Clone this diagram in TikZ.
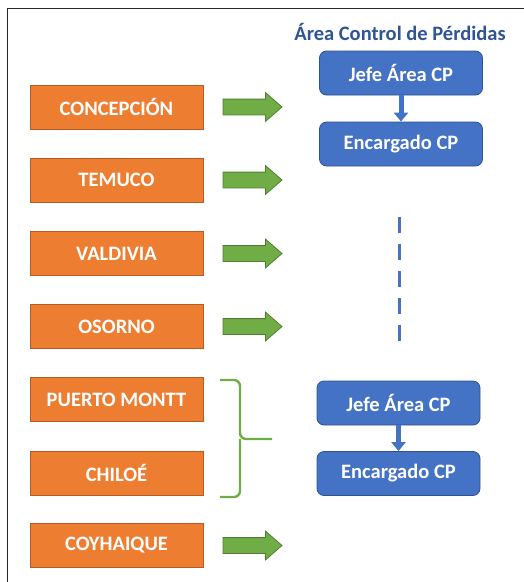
\documentclass[tikz,border=0pt]{standalone}
\usepackage{fontspec}
\setmainfont{Carlito}
\usetikzlibrary{shapes.arrows,arrows.meta}
\definecolor{sedeOrange}{HTML}{ED7D31}
\definecolor{sedeOrangeDark}{HTML}{B35D24}
\definecolor{flowGreen}{HTML}{70AD47}
\definecolor{flowGreenDark}{HTML}{507E32}
\definecolor{cpBlue}{HTML}{4472C4}
\definecolor{cpBlueDark}{HTML}{2F528F}
\definecolor{titleBlue}{HTML}{2F5597}
\tikzset{
  rotulo/.style={font=\bfseries\fontsize{20.5}{24}\selectfont},
  sede/.style={rotulo, draw=sedeOrangeDark, line width=0.8pt, fill=sedeOrange, text=white,
    minimum width=173pt, minimum height=44pt, inner sep=0pt},
  cargo/.style={rotulo, draw=cpBlueDark, line width=0.8pt, fill=cpBlue, text=white,
    rounded corners=7pt, minimum width=163pt, minimum height=44pt, inner sep=0pt},
  flecha/.style={shape=single arrow, draw=flowGreenDark, line width=0.8pt, fill=flowGreen,
    minimum height=59pt, inner xsep=0pt, inner ysep=7.5pt, single arrow head extend=6.5pt,
    single arrow head indent=0pt, single arrow tip angle=82, outer sep=0pt},
  baja/.style={cpBlue, line width=5pt, -{Triangle[width=14pt,length=9pt]}},
  llave/.style={flowGreen, line width=2.4pt, rounded corners=6pt},
}
\begin{document}
\begin{tikzpicture}[x=1pt,y=1pt]
  \useasboundingbox (0,0) rectangle (524,-582);
  % open frame: top and left edges only
  \draw[line width=1.4pt, black!85] (7.5,-582) -- (7.5,-8.5) -- (524,-8.5);

  % regional offices
  \node[sede] (conc) at (116.5,-107) {CONCEPCIÓN};
  \node[sede] (temu) at (116.5,-180) {TEMUCO};
  \node[sede] (vald) at (116.5,-253.5) {VALDIVIA};
  \node[sede] (osor) at (116.5,-326.5) {OSORNO};
  \node[sede] (ptom) at (116.5,-399.5) {PUERTO MONTT};
  \node[sede] (chil) at (116.5,-473) {CHILOÉ};
  \node[sede] (coyh) at (116.5,-545.5) {COYHAIQUE};

  % green arrows
  \node[flecha] (fconc) at (248,-107) {};
  \node[flecha] (ftemu) at (248,-180) {};
  \node[flecha] (fvald) at (248,-253.5) {};
  \node[flecha] (fosor) at (248,-326.5) {};
  \node[flecha] (fcoyh) at (248,-545.5) {};

  % loss control area, first team
  \node[rotulo, text=titleBlue] (titulo) at (400,-32) {Área Control de Pérdidas};
  \node[cargo] (jefe1) at (401,-73) {Jefe Área CP};
  \node[cargo] (enc1) at (401,-144) {Encargado CP};
  \draw[baja] (jefe1.south) -- (enc1.north);

  % continuation marks
  \coordinate (puntosA) at (399,-217);
  \coordinate (puntosB) at (399,-342);
  \draw[cpBlue, line width=3pt, dash pattern=on 16pt off 11pt] (puntosA) -- (puntosB);

  % second team
  \node[cargo] (jefe2) at (398.5,-403) {Jefe Área CP};
  \node[cargo] (enc2) at (398.5,-473.5) {Encargado CP};
  \draw[baja] (jefe2.south) -- (enc2.north);

  % brace grouping Puerto Montt and Chiloé
  \draw[llave] (220,-380) -- (240,-380) -- (240,-439) -- (272,-439);
  \draw[llave] (220,-497) -- (240,-497) -- (240,-439);
\end{tikzpicture}
\end{document}
